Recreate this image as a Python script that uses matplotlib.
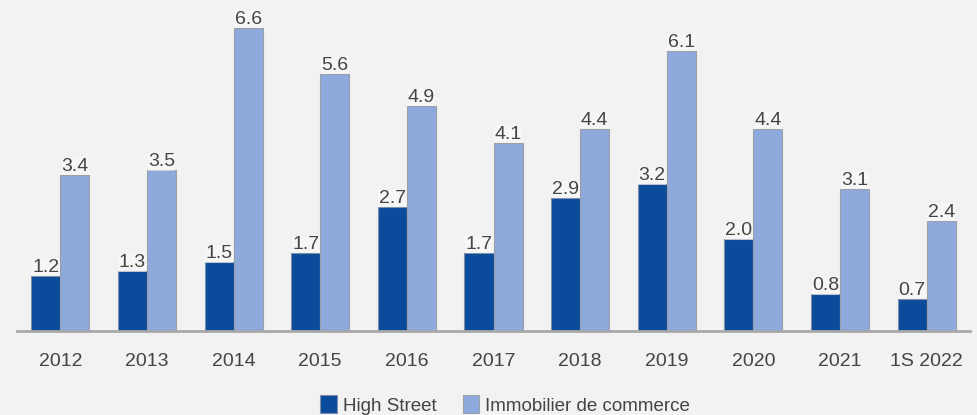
import matplotlib
matplotlib.use("Agg")
import matplotlib.pyplot as plt
import numpy as np

plt.rcParams["font.family"] = ["Liberation Sans", "DejaVu Sans"]

categories = ["2012", "2013", "2014", "2015", "2016", "2017", "2018", "2019", "2020", "2021", "1S 2022"]
high_street = [1.2, 1.3, 1.5, 1.7, 2.7, 1.7, 2.9, 3.2, 2.0, 0.8, 0.7]
immobilier = [3.4, 3.5, 6.6, 5.6, 4.9, 4.1, 4.4, 6.1, 4.4, 3.1, 2.4]
series_names = ["High Street", "Immobilier de commerce"]

bg = "#f2f2f2"
dark = "#0b4b9c"
light = "#8eaadc"
text_col = "#444444"

fig = plt.figure(figsize=(9.77, 4.15), dpi=100, facecolor=bg)
ax = fig.add_axes([17 / 977, 1 - 331 / 415, 953 / 977, 331 / 415])
ax.set_facecolor(bg)

x = np.arange(len(categories))
w = 29 / 86.6
b1 = ax.bar(x - w / 2, high_street, w, color=dark, edgecolor="#7f8ea8", linewidth=0.8, label=series_names[0])
b2 = ax.bar(x + w / 2, immobilier, w, color=light, edgecolor="#9a9fa8", linewidth=0.8, label=series_names[1])

for bars, vals in ((b1, high_street), (b2, immobilier)):
    for r, v in zip(bars, vals):
        ax.text(r.get_x() + r.get_width() / 2, v + 0.0, f"{v:.1f}", ha="center", va="bottom",
                fontsize=14, color=text_col,
                bbox=dict(boxstyle="square,pad=0.02", fc="#fafafa", ec="none", alpha=0.5))

ax.set_xlim(-0.5, len(categories) - 0.5)
ax.set_ylim(0, 331 / 45.9)
ax.set_xticks(x)
ax.set_xticklabels(categories, fontsize=14, color=text_col)
ax.tick_params(axis="x", length=0, pad=16)
ax.set_yticks([])
for s in ("top", "right", "left"):
    ax.spines[s].set_visible(False)
ax.spines["bottom"].set_color("#a8a8a8")
ax.spines["bottom"].set_linewidth(2)

leg = fig.legend(handles=[b1, b2], labels=series_names, loc="center", bbox_to_anchor=(505 / 977, 1 - 405 / 415),
                 ncol=2, frameon=False, fontsize=13.5, handlelength=0.9, handleheight=1.1,
                 handletextpad=0.3, columnspacing=1.4)
for t in leg.get_texts():
    t.set_color(text_col)

fig.savefig("out.png", dpi=100, facecolor=bg)
